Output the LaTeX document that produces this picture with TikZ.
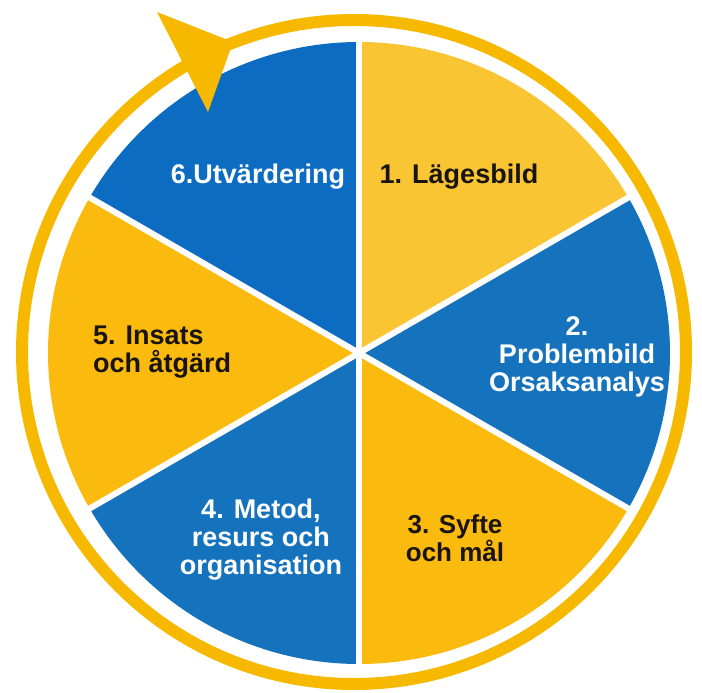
\documentclass[tikz,border=0pt]{standalone}
\usepackage{fontspec}
\setmainfont{Liberation Sans}
\definecolor{ylight}{HTML}{F9C533}
\definecolor{ymain}{HTML}{FBBB0E}
\definecolor{ring}{HTML}{F7B800}
\definecolor{bmain}{HTML}{1572BC}
\definecolor{bdark}{HTML}{0B6CC2}
\definecolor{txt}{HTML}{1A1410}
\begin{document}
\begin{tikzpicture}[x=1pt,y=-1pt,
  lbl/.style={font=\fontsize{27}{28}\selectfont\bfseries, align=center, inner sep=0pt},
  lblY/.style={lbl, text=txt},
  lblB/.style={lbl, text=white},
  gap/.style={white, line width=6pt}]
\useasboundingbox (0,0) rectangle (702,693);
% ring
\coordinate (rc) at (354,352);
\draw[ring, line width=12pt] (rc) circle[radius=332];
% pie
\coordinate (c) at (359,353);
\def\R{311}
\fill[ylight] (c) -- ++(90:-\R) arc[start angle=-90, end angle=-30, radius=\R] -- cycle;
\fill[bmain] (c) -- ++(-30:\R) arc[start angle=-30, end angle=30, radius=\R] -- cycle;
\fill[ymain] (c) -- ++(30:\R) arc[start angle=30, end angle=90, radius=\R] -- cycle;
\fill[bmain] (c) -- ++(90:\R) arc[start angle=90, end angle=150, radius=\R] -- cycle;
\fill[ymain] (c) -- ++(150:\R) arc[start angle=150, end angle=210, radius=\R] -- cycle;
\fill[bdark] (c) -- ++(210:\R) arc[start angle=210, end angle=270, radius=\R] -- cycle;
% separators
\foreach \a in {30,90,150,210,270,330} \draw[gap] (c) -- ++(\a:\R+4);
% arrow head
\fill[ring] (157,12) -- (233,42) -- (208,112) -- cycle;
% labels
\node[lblY, anchor=base] (l1) at (459,183) {1. Lägesbild};
\node[lblB] (l2) at (577,357) {2.\\Problembild\\Orsaksanalys};
\node[lblY, font=\fontsize{26}{25}\selectfont\bfseries] (l3) at (455,538) {3. Syfte\\och mål};
\node[lblB] (l4) at (261,540) {4. Metod,\\resurs och\\organisation};
\node[lblY, align=left, anchor=west] (l5) at (93,352) {5. Insats\\och åtgärd};
\node[lblB, anchor=base] (l6) at (258,183) {6.Utvärdering};
\end{tikzpicture}
\end{document}
